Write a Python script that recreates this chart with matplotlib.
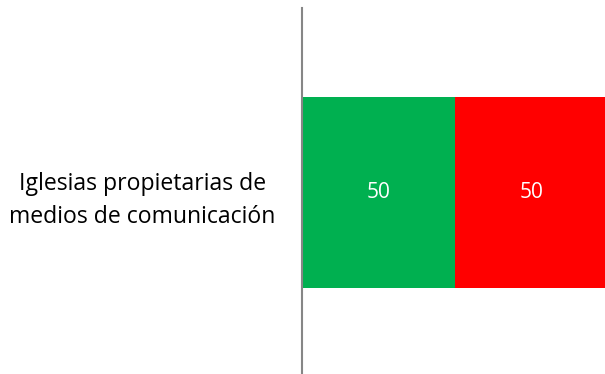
import matplotlib.pyplot as plt

# data
categories = ['Iglesias propietarias de\nmedios de comunicación']
si_vals = [50]
no_vals = [50]
colors = ['#00B050', '#FF0000']

plt.rcParams['font.family'] = ['Open Sans', 'DejaVu Sans']

fig = plt.figure(figsize=(6.05, 3.74), dpi=100)
ax = fig.add_axes([302/605, 1/374, 1 - 302/605 + 0.004, 365/374])

ax.barh(categories, si_vals, height=0.525, color=colors[0])
ax.barh(categories, no_vals, left=si_vals, height=0.525, color=colors[1])

for i in range(len(categories)):
    ax.text(si_vals[i] / 2, i, str(si_vals[i]), color='white', fontsize=15,
            ha='center', va='center')
    ax.text(si_vals[i] + no_vals[i] / 2, i, str(no_vals[i]), color='white',
            fontsize=15, ha='center', va='center')

ax.set_xlim(0, 100)
ax.set_ylim(-0.4945, 0.5055)
for s in ['top', 'right', 'bottom']:
    ax.spines[s].set_visible(False)
ax.spines['left'].set_color('#868686')
ax.spines['left'].set_linewidth(1.5)
ax.set_xticks([])
ax.tick_params(axis='y', length=0, pad=19, labelsize=16.6)
for lbl in ax.get_yticklabels():
    lbl.set_multialignment('center')
    lbl.set_linespacing(1.5)

fig.savefig('out.png', dpi=100)
